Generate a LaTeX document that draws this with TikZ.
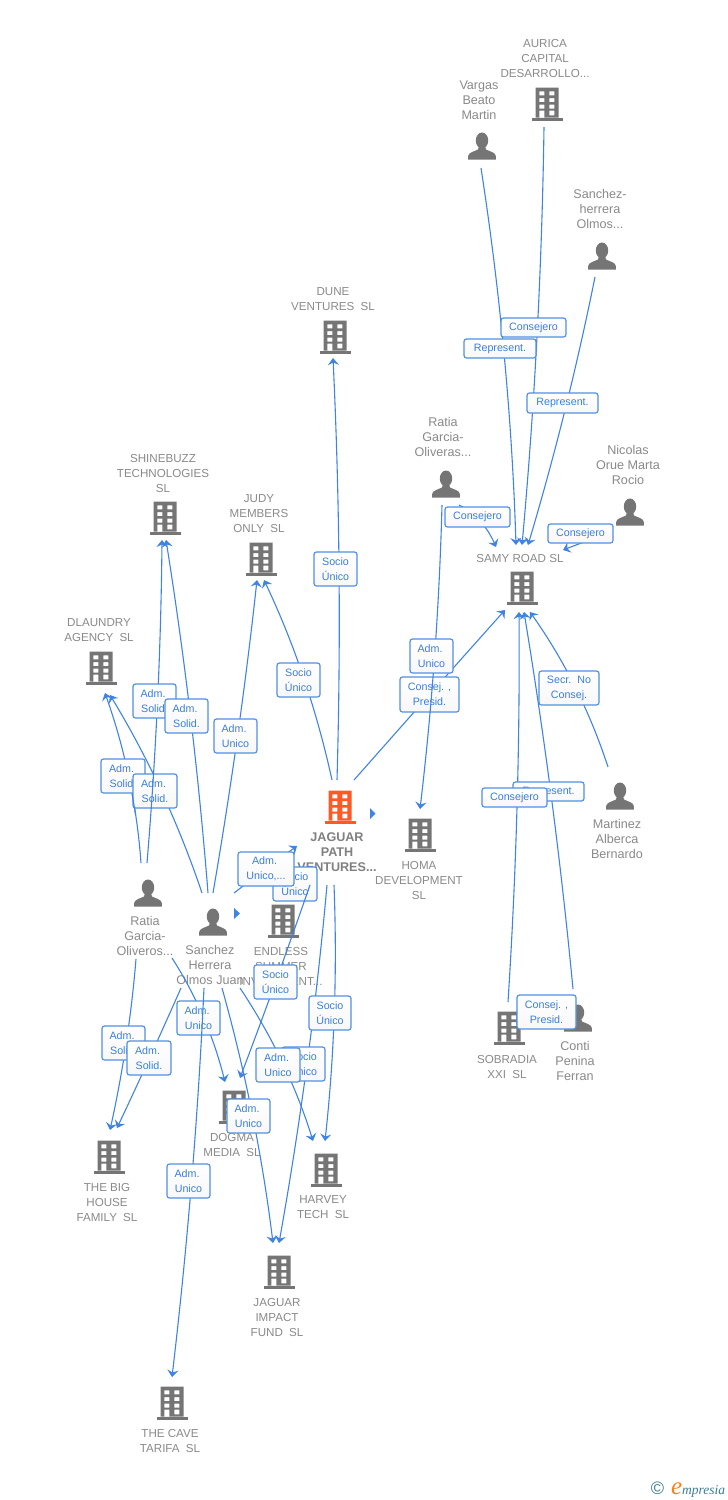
\documentclass[tikz,border=0pt]{standalone}
\usepackage{fontspec}
\setmainfont{Liberation Sans}
\newfontfamily\logofont{Liberation Serif}
\usetikzlibrary{arrows.meta,calc}
\definecolor{edgeblue}{HTML}{3F84E0}
\definecolor{labelblue}{HTML}{3A7FDC}
\definecolor{iconGrey}{HTML}{757575}
\definecolor{textGrey}{HTML}{8A8A8A}
\definecolor{hubOrange}{HTML}{FF5A26}
\definecolor{logoTeal}{HTML}{3D7D94}
\definecolor{logoOrange}{HTML}{F58220}
\tikzset{
  edgeline/.style={draw=edgeblue,line width=1.1pt,-{Stealth[length=7pt,width=11pt,inset=2.5pt]}},
  plainline/.style={draw=edgeblue,line width=1.1pt},
  labelbox/.style={draw=edgeblue!90!white,line width=1.2pt,rounded corners=2.5pt,top color=white,bottom color=black!3,
    inner sep=0pt,align=center,text=labelblue,font=\fontsize{10.7}{15}\selectfont},
  enttext/.style={text=textGrey,align=center,inner sep=0pt,yshift=-1pt,font=\fontsize{11.6}{15}\selectfont},
  pertext/.style={text=textGrey,align=center,inner sep=0pt,yshift=-1pt,font=\fontsize{12.6}{15}\selectfont},
  hubtext/.style={text=black!50,align=center,inner sep=0pt,yshift=-1pt,font=\fontsize{12.6}{15}\bfseries\selectfont},
  iconnode/.style={inner sep=0pt,minimum size=28pt},
  markertri/.style={fill=edgeblue,draw=none}
}
% building icon: name, x, y, colour
\newcommand{\bldg}[4]{%
  \node[iconnode] (#1) at (#2,#3) {};
  \begin{scope}[shift={(#2,#3)}]
    \fill[#4,even odd rule]
      (-11.5,-16.5) rectangle (11.5,13.5)
      (-7.7,-12.7) rectangle (-2.7,-8.7) (2.3,-12.7) rectangle (7.3,-8.7)
      (-7.7,-6) rectangle (-2.7,-2) (2.3,-6) rectangle (7.3,-2)
      (-7.7,0.7) rectangle (-2.7,4.7) (2.3,0.7) rectangle (7.3,4.7)
      (-7.7,6.7) rectangle (-2.7,13.5) (2.3,6.7) rectangle (7.3,11.3);
    \fill[#4] (-15.5,13.5) rectangle (15.5,16.5);
  \end{scope}}
% person icon: name, x, y
\newcommand{\persn}[3]{%
  \node[iconnode] (#1) at (#2,#3) {};
  \begin{scope}[shift={(#2,#3)}]
    \fill[iconGrey] (0,-5.5) ellipse [x radius=6.2,y radius=8];
    \fill[iconGrey] (-13.8,13.5) -- (-13.8,10) .. controls (-13.5,6.5) and (-8,5.5) .. (-4,3.5)
      -- (-3,0) -- (3,0) -- (4,3.5) .. controls (8,5.5) and (13.5,6.5) .. (13.8,10) -- (13.8,13.5) -- cycle;
  \end{scope}}
% link (quadratic curve): name, start x y, control x y, end x y
\newcommand{\link}[7]{%
  \coordinate (#1-from) at (#2,#3);
  \coordinate (#1-to) at (#6,#7);
  \coordinate (#1-via) at (#4,#5);
  \draw[edgeline] (#1-from) .. controls ($(#1-from)!0.6667!(#1-via)$) and ($(#1-to)!0.6667!(#1-via)$) .. (#1-to);}
% label box: name, x1 y1 x2 y2, text
\newcommand{\lab}[6]{%
  \node[labelbox,minimum width={(#4-#2)*1pt},minimum height={(#5-#3)*1pt}] (#1) at ({(#2+#4)/2},{(#3+#5)/2}) {#6};}
\newcommand{\adm}{Adm.\kern3pt}
\begin{document}
\begin{tikzpicture}[x=1pt,y=-1pt]
\useasboundingbox (0,0) rectangle (728,1500);
\fill[white] (0,0) rectangle (728,1500);

% ---------- entities
\bldg{aurica}{547}{104}{iconGrey}
\node[enttext] (auricaT) at (545,58) {AURICA\\CAPITAL\\DESARROLLO...};
\persn{vargas}{482}{146}
\node[pertext] (vargasT) at (479,99) {Vargas\\Beato\\Martin};
\persn{sanchezh}{602}{256}
\node[pertext] (sanchezhT) at (600,208) {Sanchez-\\herrera\\Olmos...};
\bldg{dune}{335}{337}{iconGrey}
\node[enttext] (duneT) at (333,298.5) {DUNE\\VENTURES\kern3pt\ SL};
\persn{ratiatop}{446}{484}
\node[pertext] (ratiatopT) at (443,436) {Ratia\\Garcia-\\Oliveras...};
\persn{nicolas}{630}{512}
\node[pertext] (nicolasT) at (628,464) {Nicolas\\Orue Marta\\Rocio};
\bldg{shinebuzz}{165}{518}{iconGrey}
\node[enttext] (shinebuzzT) at (163,472) {SHINEBUZZ\\TECHNOLOGIES\\SL};
\bldg{judy}{261}{559}{iconGrey}
\node[enttext] (judyT) at (259,513) {JUDY\\MEMBERS\\ONLY\kern3pt\ SL};
\bldg{samy}{522}{588}{iconGrey}
\node[enttext] (samyT) at (520,557) {SAMY ROAD SL};
\bldg{dlaundry}{101}{668}{iconGrey}
\node[enttext] (dlaundryT) at (99,629.5) {DLAUNDRY\\AGENCY\kern3pt\ SL};
\bldg{jaguar}{340}{807}{hubOrange}
\node[hubtext] (jaguarT) at (337,851) {JAGUAR\\PATH\\VENTURES...};
\bldg{homa}{420}{835}{iconGrey}
\node[enttext] (homaT) at (419,879) {HOMA\\DEVELOPMENT\\SL};
\persn{martinez}{620}{796}
\node[pertext] (martinezT) at (617,838) {Martinez\\Alberca\\Bernardo};
\persn{ratiabot}{148}{893}
\node[pertext] (ratiabotT) at (145,935) {Ratia\\Garcia-\\Oliveros...};
\persn{sanchez}{213}{922}
\node[pertext] (sanchezT) at (210,964) {Sanchez\\Herrera\\Olmos Juan};
\bldg{endless}{283}{921}{iconGrey}
\node[enttext] (endlessT) at (281,965) {ENDLESS\\SUMMER\\INVESTMENT...};
\bldg{sobradia}{509}{1028}{iconGrey}
\node[enttext] (sobradiaT) at (507,1065.5) {SOBRADIA\\XXI\kern3pt\ SL};
\persn{conti}{578}{1018}
\node[pertext] (contiT) at (575,1060) {Conti\\Penina\\Ferran};
\bldg{dogma}{234}{1107}{iconGrey}
\node[enttext] (dogmaT) at (232,1143.5) {DOGMA\\MEDIA\kern3pt\ SL};
\bldg{bighouse}{109}{1157}{iconGrey}
\node[enttext] (bighouseT) at (107,1201) {THE BIG\\HOUSE\\FAMILY\kern3pt\ SL};
\bldg{harvey}{326}{1170}{iconGrey}
\node[enttext] (harveyT) at (323,1206.5) {HARVEY\\TECH\kern3pt\ SL};
\bldg{impact}{279}{1272}{iconGrey}
\node[enttext] (impactT) at (277,1316) {JAGUAR\\IMPACT\\FUND\kern3pt\ SL};
\bldg{cave}{172}{1403}{iconGrey}
\node[enttext] (caveT) at (170,1439.5) {THE CAVE\\TARIFA\kern3pt\ SL};

% expansion markers
\fill[markertri] (370,808) -- (375.5,813.5) -- (370,819) -- cycle;
\fill[markertri] (234,908) -- (240,913.5) -- (234,919) -- cycle;

% ---------- connectors below the labels
\link{ratiabot-dlaundry}{141}{863}{135}{778}{105}{693}
\link{sanchez-dlaundry}{202}{893}{167}{789}{110}{695}
\link{sanchez-shinebuzz}{208}{893}{194}{716}{166}{540}
\link{sanchez-judy}{213}{893}{240}{736}{257}{580}
\link{jaguar-judy}{332}{780}{309}{675}{264}{580}
\link{jaguar-dune}{337}{780}{343}{569}{333}{358}
\link{jaguar-samy}{354}{780}{429}{695}{505}{610}
\link{sanchez-jaguar}{234}{893}{265}{869}{297}{846}
\link{ratiatop-samy}{459}{505}{483}{517}{496}{547}
\link{nicolas-samy}{610}{533}{586}{541}{563}{550}
\link{vargas-samy}{481}{168}{510}{356}{516}{545}
\link{aurica-samy}{544}{127}{541}{336}{522}{545}
\link{sanchezh-samy}{595}{277}{568}{411}{528}{545}
\link{martinez-samy}{608}{767}{581}{684}{530}{612}
\link{sobradia-samy}{508}{1002}{520.5}{807}{519}{612}
\link{conti-samy}{573}{989}{555}{800}{524}{612}
\link{ratiabot-bighouse}{136}{959}{129}{1044}{110}{1130}
\link{ratiabot-dogma}{172}{958}{208}{1014}{225}{1082}
\link{sanchez-bighouse}{181}{988}{151}{1056}{117}{1128}
\link{sanchez-impact}{222}{988}{257}{1113}{273}{1243}
\link{sanchez-harvey}{240}{988}{288}{1060}{313}{1141}
\link{jaguar-impact}{327}{885}{311}{1064}{279}{1243}
\link{jaguar-harvey}{334}{885}{339}{1013}{325}{1141}

% ---------- labels
\lab{l-consejero-vargas}{501}{318}{566}{337}{Consejero}
\lab{l-repres-aurica}{464}{339}{536}{358}{Represent.}
\lab{l-repres-sanchezh}{527}{393}{598}{413}{Represent.}
\lab{l-consejero-ratia}{445}{507}{510}{527}{Consejero}
\lab{l-consejero-nicolas}{548}{524}{613}{543}{Consejero}
\lab{l-secr}{539}{671}{599}{705}{Secr.\kern3pt\ No\\Consej.}
\lab{l-consej-jaguar}{400}{677}{459}{712}{Consej. ,\\Presid.}
\lab{l-represent-conti}{513}{782}{584}{801}{Represent.}
\lab{l-consejero-sobradia}{482}{788}{547}{807}{Consejero}
\lab{l-consej-conti}{517}{995}{576}{1029}{Consej. ,\\Presid.}
\lab{l-socio-dune}{314}{552}{357}{586}{Socio\\Único}
\lab{l-socio-judy}{277}{663}{320}{697}{Socio\\Único}
\lab{l-adm-judy}{214}{719}{257}{753}{\adm\\Unico}
\lab{l-solid-a}{101}{759}{145}{793}{\adm\\Solid.}
\lab{l-solid-b}{133}{774}{177}{808}{\adm\\Solid.}
\lab{l-socio-endless}{273}{867}{317}{901}{Socio\\Único}
\lab{l-adm-jaguar}{238}{852}{294}{886}{\adm\\Unico,...}
\lab{l-adm-dogma}{177}{1001}{220}{1035}{\adm\\Unico}
\lab{l-solid-c}{102}{1026}{145}{1060}{\adm\\Solid.}
\lab{l-solid-d}{127}{1041}{171}{1075}{\adm\\Solid.}
\lab{l-socio-harvey}{309}{996}{351}{1030}{Socio\\Único}
\lab{l-socio-impact}{282}{1047}{325}{1081}{Socio\\Único}
\lab{l-adm-harvey}{256}{1048}{300}{1082}{\adm\\Unico}
\lab{l-adm-impact}{227}{1099}{270}{1133}{\adm\\Unico}

% ---------- connectors that run over some labels
\coordinate (ratiabot-low) at (135.6,815);
\coordinate (ratiabot-high) at (132.2,794);
\draw[plainline] (ratiabot-low) -- (ratiabot-high);
\link{ratiabot-shinebuzz}{147}{863}{160.5}{701}{162}{540}
\link{ratiatop-homa}{442}{505}{438}{657}{420}{809}
\link{sanchez-cave}{204}{988}{195}{1182}{172}{1377}
\link{endless-dogma}{310}{885}{277}{980}{240}{1078}

% ---------- labels above those connectors
\lab{l-solid-e}{133}{684}{176}{718}{\adm\\Solid.}
\lab{l-solid-f}{165}{699}{208}{733}{\adm\\Solid.}
\lab{l-adm-homa}{410}{639}{453}{673}{\adm\\Unico}
\lab{l-adm-cave}{167}{1164}{210}{1198}{\adm\\Unico}
\lab{l-socio-dogma}{254}{965}{297}{999}{Socio\\Único}

% ---------- logo
\node[text=logoTeal,inner sep=0pt,font=\fontsize{18}{18}\selectfont] (logoC) at (657.5,1488.5) {©};
\node[text=logoOrange,inner sep=0pt,anchor=base west,font=\logofont\fontsize{25}{25}\itshape\selectfont] (logoE) at (671,1494) {e};
\node[text=logoTeal,inner sep=0pt,anchor=base west,font=\logofont\fontsize{13.5}{14}\itshape\selectfont] (logoW) at (682,1494) {mpresia};
\end{tikzpicture}
\end{document}
